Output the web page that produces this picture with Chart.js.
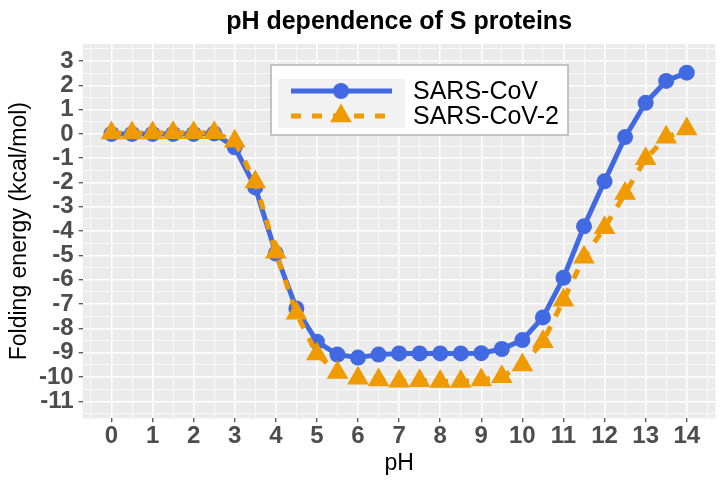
<!DOCTYPE html>
<html>
<head>
<meta charset="utf-8">
<script src="https://cdn.jsdelivr.net/npm/chart.js@4"></script>
<style>
  html, body { margin: 0; padding: 0; background: #ffffff; }
  #chart { display: block; }
</style>
</head>
<body>
<canvas id="chart" width="728" height="485"></canvas>
<script>
// valores
const pH = [0, 0.5, 1, 1.5, 2, 2.5, 3, 3.5, 4, 4.5, 5, 5.5, 6, 6.5, 7, 7.5, 8, 8.5, 9, 9.5, 10, 10.5, 11, 11.5, 12, 12.5, 13, 13.5, 14];
const sarsCoV = [0, 0, 0, 0, 0, 0.02, -0.55, -2.2, -4.92, -7.18, -8.55, -9.08, -9.2, -9.08, -9.03, -9.03, -9.03, -9.03, -9.02, -8.85, -8.48, -7.55, -5.92, -3.8, -1.95, -0.13, 1.28, 2.18, 2.52];
const sarsCoV2 = [0.04, 0.04, 0.04, 0.05, 0.05, 0.05, -0.3, -1.98, -4.87, -7.38, -9.05, -9.82, -10.05, -10.12, -10.18, -10.15, -10.19, -10.19, -10.12, -9.99, -9.51, -8.55, -6.84, -5.07, -3.86, -2.45, -1.02, -0.14, 0.2];

const xTickLabels = [0, 1, 2, 3, 4, 5, 6, 7, 8, 9, 10, 11, 12, 13, 14];
const yTickLabels = [-11, -10, -9, -8, -7, -6, -5, -4, -3, -2, -1, 0, 1, 2, 3];

const seriesNames = ['SARS-CoV', 'SARS-CoV-2'];
const titleText = 'pH dependence of S proteins';

const FONT = '"Liberation Sans", Arial, Helvetica, sans-serif';
const BLUE = '#4169E1';
const ORANGE = '#EE9A00';

// ticks maiores + menores (meio passo), estilo ggplot
function withMinor(majors) {
    const out = [{ value: majors[0] - 0.5 }];
    majors.forEach(v => {
        out.push({ value: v });
        out.push({ value: v + 0.5 });
    });
    return out;
}
const isMajor = v => Number.isInteger(v);

const gridOpts = {
    color: '#ffffff',
    lineWidth: ctx => (ctx.tick && isMajor(ctx.tick.value)) ? 1.5 : 0.7,
    tickColor: ctx => (ctx.tick && isMajor(ctx.tick.value)) ? '#333333' : 'rgba(0,0,0,0)',
    tickWidth: 1.1,
    tickLength: 4,
    drawOnChartArea: true
};

// fundo cinza do painel
const panelBg = {
    id: 'panelBg',
    beforeDraw(chart) {
        const { ctx, chartArea: a } = chart;
        ctx.save();
        ctx.fillStyle = '#EBEBEB';
        ctx.fillRect(a.left, a.top, a.right - a.left, a.bottom - a.top);
        ctx.restore();
    }
};

// título centrado sobre o painel
const panelTitle = {
    id: 'panelTitle',
    afterDraw(chart) {
        const { ctx, chartArea: a } = chart;
        ctx.save();
        ctx.font = 'bold 25px ' + FONT;
        ctx.fillStyle = '#000000';
        ctx.textAlign = 'center';
        ctx.textBaseline = 'middle';
        ctx.fillText(titleText, (a.left + a.right) / 2, 22);
        ctx.restore();
    }
};

// legenda dentro do painel
const insideLegend = {
    id: 'insideLegend',
    afterDatasetsDraw(chart) {
        const { ctx } = chart;
        const box = { x: 271, y: 65, w: 297, h: 70 };
        ctx.save();
        ctx.fillStyle = '#ffffff';
        ctx.fillRect(box.x, box.y, box.w, box.h);
        ctx.strokeStyle = '#B3B3B3';
        ctx.lineWidth = 1.5;
        ctx.strokeRect(box.x, box.y, box.w, box.h);
        ctx.fillStyle = '#F2F2F2';
        ctx.fillRect(278, 79, 127, 49);

        const rows = [91, 116];
        chart.data.datasets.forEach((ds, i) => {
            const y = rows[i];
            ctx.save();
            ctx.strokeStyle = ds.borderColor;
            ctx.lineWidth = ds.borderWidth;
            ctx.setLineDash(ds.borderDash || []);
            ctx.beginPath();
            ctx.moveTo(291, y);
            ctx.lineTo(392, y);
            ctx.stroke();
            ctx.restore();

            ctx.fillStyle = ds.pointBackgroundColor;
            Chart.helpers.drawPoint(ctx, {
                pointStyle: ds.pointStyle,
                radius: ds.pointRadius,
                borderWidth: 0,
                rotation: 0
            }, 341, y);

            ctx.fillStyle = '#000000';
            ctx.font = '25px ' + FONT;
            ctx.textAlign = 'left';
            ctx.textBaseline = 'middle';
            ctx.fillText(ds.label, 413, y + 1);
        });
        ctx.restore();
    }
};

const config = {
    type: 'line',
    data: {
        datasets: [
            {
                label: seriesNames[0],
                data: pH.map((x, i) => ({ x: x, y: sarsCoV[i] })),
                borderColor: BLUE,
                backgroundColor: BLUE,
                pointBackgroundColor: BLUE,
                borderWidth: 5,
                pointStyle: 'circle',
                pointRadius: 8,
                pointBorderWidth: 0,
                tension: 0,
                order: 2
            },
            {
                label: seriesNames[1],
                data: pH.map((x, i) => ({ x: x, y: sarsCoV2[i] })),
                borderColor: ORANGE,
                backgroundColor: ORANGE,
                pointBackgroundColor: ORANGE,
                borderWidth: 5,
                borderDash: [10, 11],
                pointStyle: 'triangle',
                pointRadius: 12.5,
                pointBorderWidth: 0,
                tension: 0,
                order: 1
            }
        ]
    },
    options: {
        responsive: false,
        animation: false,
        devicePixelRatio: 1,
        layout: { padding: { top: 44, right: 9.3, bottom: 0, left: 0 } },
        plugins: {
            legend: { display: false },
            tooltip: { enabled: false }
        },
        scales: {
            x: {
                type: 'linear',
                min: -0.7,
                max: 14.7,
                afterBuildTicks: axis => { axis.ticks = withMinor(xTickLabels); },
                afterFit: axis => { axis.height = 485 - 418.3; },
                grid: gridOpts,
                border: { display: false },
                ticks: {
                    autoSkip: false,
                    maxRotation: 0,
                    padding: 0,
                    color: '#4D4D4D',
                    font: { family: FONT, size: 24, weight: 'bold' },
                    callback: v => isMajor(v) ? String(v) : ''
                },
                title: {
                    display: true,
                    text: 'pH',
                    color: '#000000',
                    font: { family: FONT, size: 23 },
                    padding: { top: 0, bottom: 8 }
                }
            },
            y: {
                type: 'linear',
                min: -11.7,
                max: 3.7,
                afterBuildTicks: axis => { axis.ticks = withMinor(yTickLabels); },
                afterFit: axis => { axis.width = 82.7; },
                grid: gridOpts,
                border: { display: false },
                ticks: {
                    autoSkip: false,
                    padding: 5,
                    color: '#4D4D4D',
                    font: { family: FONT, size: 24, weight: 'bold' },
                    callback: v => isMajor(v) ? String(v) : ''
                },
                title: {
                    display: true,
                    text: 'Folding energy (kcal/mol)',
                    color: '#000000',
                    font: { family: FONT, size: 23 },
                    padding: { top: 6, bottom: 0 }
                }
            }
        }
    },
    plugins: [panelBg, panelTitle, insideLegend]
};

new Chart(document.getElementById('chart'), config);
</script>
</body>
</html>
